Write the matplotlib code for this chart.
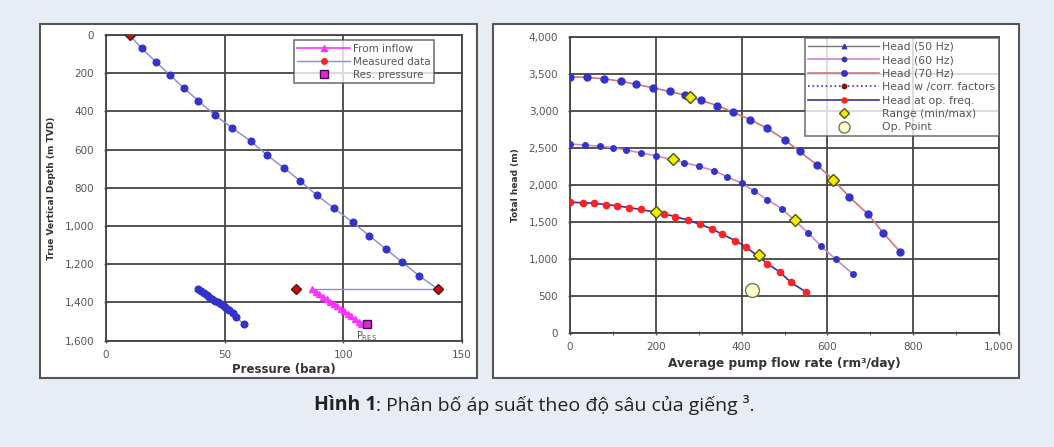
import matplotlib.pyplot as plt
from matplotlib.patches import Rectangle
from matplotlib.ticker import FuncFormatter, MultipleLocator

# ---- left chart data: pressure (bara) vs depth (m TVD)
meas_p = [10, 15, 21, 27, 33, 39, 46, 53, 61, 68, 75, 82, 89, 96, 104, 111, 118, 125, 132, 140]
meas_d = [0, 70, 140, 210, 280, 345, 420, 485, 555, 630, 695, 765, 840, 905, 980, 1050, 1120, 1190, 1260, 1330]
meas_pts_p = [10, 140, 80]
meas_pts_d = [0, 1330, 1330]
link_p = [87, 140]
link_d = [1330, 1330]
inflow_p = [87, 88.5, 90, 91.5, 93, 94.5, 96, 97.5, 99, 100.5, 102, 103.5, 105, 106.5, 107.5]
inflow_d = [1330, 1343, 1356, 1369, 1382, 1395, 1408, 1421, 1434, 1447, 1460, 1473, 1486, 1500, 1515]
low_p = [39, 40, 41.2, 42.4, 43.6, 44.8, 46, 47.2, 48.4, 49.6, 50.8, 52, 53.5, 55, 58]
low_d = [1330, 1340, 1350, 1360, 1370, 1380, 1390, 1400, 1410, 1420, 1430, 1440, 1455, 1475, 1515]
res_p = [110]
res_d = [1515]

# ---- right chart data: flow rate (rm3/day) vs total head (m)
q70 = [0, 40, 80, 118, 155, 193, 232, 268, 305, 343, 380, 420, 460, 500, 535, 575, 615, 650, 695, 730, 770]
h70 = [3460, 3450, 3430, 3400, 3355, 3310, 3260, 3210, 3140, 3070, 2980, 2880, 2760, 2610, 2450, 2270, 2060, 1840, 1600, 1350, 1090]
q60 = [0, 35, 70, 100, 130, 165, 200, 265, 300, 335, 365, 400, 430, 460, 495, 555, 585, 620, 660]
h60 = [2550, 2535, 2520, 2500, 2470, 2430, 2390, 2300, 2250, 2190, 2110, 2020, 1910, 1800, 1670, 1350, 1170, 990, 790]
q50 = [0, 30, 55, 85, 110, 138, 165, 220, 245, 275, 303, 330, 355, 385, 410, 460, 490, 515, 550]
h50 = [1765, 1755, 1750, 1730, 1715, 1690, 1665, 1605, 1570, 1520, 1465, 1405, 1330, 1245, 1160, 935, 815, 680, 550]
range_q = [280, 612, 240, 525, 200, 440]
range_h = [3190, 2065, 2345, 1520, 1630, 1050]
op_q = [425]
op_h = [580]

bg = '#e8ecf5'
tick_col = '#555555'
grid_col = '#444444'

fig = plt.figure(figsize=(10.54, 4.47), dpi=100, facecolor=bg)
W, H = 1054, 447

# white panels behind the axes
for x0, x1 in [(40, 477), (493, 1019)]:
    fig.patches.append(Rectangle((x0 / W, 1 - 378 / H), (x1 - x0) / W, (378 - 24) / H,
                                 transform=fig.transFigure, facecolor='white',
                                 edgecolor='#555555', lw=1.5, zorder=-5))

comma = FuncFormatter(lambda v, p: f'{int(v):,}')


def style(ax):
    ax.set_facecolor('white')
    ax.grid(True, color=grid_col, lw=1.3)
    for s in ax.spines.values():
        s.set_color(grid_col)
        s.set_linewidth(1.3)
    ax.tick_params(colors=tick_col, labelsize=7.5, length=3, width=1,
                   direction='inout', pad=7)
    ax.tick_params(axis='x', pad=5)
    ax.yaxis.set_major_formatter(comma)
    ax.xaxis.set_major_formatter(comma)
    ax.set_axisbelow(True)


# ---- left axes
ax1 = fig.add_axes([106 / W, 1 - 340.7 / H, 355.7 / W, 305.7 / H])
style(ax1)
ax1.plot(meas_p, meas_d, color='#8888dd', lw=1, marker='o', ms=4.8,
         mfc='#3333cc', mec='#3333cc', zorder=3)
ax1.plot(link_p, link_d, color='#8888dd', lw=1, zorder=2)
ax1.plot(low_p, low_d, color='#44aa44', lw=0.8, marker='o', ms=4.8,
         mfc='#3333cc', mec='#3333cc', zorder=3)
l1, = ax1.plot(inflow_p, inflow_d, color='#ff33ff', lw=1.2, marker='^', ms=4,
               mfc='#ff33ff', mec='#ff33ff', zorder=3, label='From inflow')
ax1.plot(meas_pts_p, meas_pts_d, ls='none', marker='D', ms=5.5,
         mfc='#cc1111', mec='#551111', zorder=4)
l2, = ax1.plot([], [], color='#8888dd', lw=1, marker='o', ms=4,
               mfc='#ff2222', mec='#ff2222', label='Measured data')
l3, = ax1.plot(res_p, res_d, ls='none', marker='s', ms=5.5, mfc='#cc33cc',
               mec='#550055', zorder=4, label='Res. pressure')
ax1.text(105.5, 1578, r'P$_{\mathrm{RES}}$', fontsize=7, color=tick_col,
         ha='left', va='center')
ax1.set_xlim(0, 150)
ax1.set_ylim(1600, 0)
ax1.xaxis.set_major_locator(MultipleLocator(50))
ax1.yaxis.set_major_locator(MultipleLocator(200))
ax1.set_xlabel('Pressure (bara)', fontsize=8.5, color='#333333', fontweight='bold', labelpad=2)
ax1.set_ylabel('True Vertical Depth (m TVD)', fontsize=6.5, color='#333333', fontweight='bold', labelpad=6)
leg1 = ax1.legend(handles=[l1, l2, l3], loc='upper right', bbox_to_anchor=(0.922, 0.984),
                  fontsize=7.5, frameon=True, fancybox=False, edgecolor='#555555',
                  handlelength=5, borderpad=0.35, labelspacing=0.3, handletextpad=0.3,
                  labelcolor=tick_col, borderaxespad=0)
leg1.get_frame().set_linewidth(1.2)

# ---- right axes
ax2 = fig.add_axes([570 / W, 1 - 332.7 / H, 429 / W, 296 / H])
style(ax2)
h_a, = ax2.plot([], [], color='#777777', lw=1, marker='^', ms=4, mfc='#3333cc',
                mec='#3333cc', label='Head (50 Hz)')
h_b, = ax2.plot(q60, h60, color='#cc88cc', lw=1.2, marker='o', ms=4, mfc='#3333cc',
                mec='#3333cc', zorder=3, label='Head (60 Hz)')
h_c, = ax2.plot(q70, h70, color='#cc7777', lw=1.2, marker='o', ms=5, mfc='#3333cc',
                mec='#3333cc', zorder=3, label='Head (70 Hz)')
h_d, = ax2.plot([], [], color='#3333cc', lw=1.2, ls=':', marker='o', ms=4,
                mfc='#881111', mec='#881111', label='Head w /corr. factors')
h_e, = ax2.plot(q50, h50, color='#333399', lw=1.2, marker='o', ms=4.5, mfc='#ff2222',
                mec='#ff2222', zorder=3, label='Head at op. freq.')
h_f, = ax2.plot(range_q, range_h, ls='none', marker='D', ms=6.5, mfc='#eeee00',
                mec='#555500', mew=1, zorder=4, label='Range (min/max)')
h_g, = ax2.plot(op_q, op_h, ls='none', marker='o', ms=10, mfc='#ffffcc',
                mec='#777755', mew=1, zorder=4, label='Op. Point')
ax2.set_xlim(0, 1000)
ax2.set_ylim(0, 4000)
ax2.xaxis.set_major_locator(MultipleLocator(200))
ax2.xaxis.set_minor_locator(MultipleLocator(100))
ax2.yaxis.set_major_locator(MultipleLocator(500))
ax2.tick_params(axis='x', which='minor', length=3, direction='inout', colors=grid_col)
ax2.set_xlabel('Average pump flow rate (rm³/day)', fontsize=8.7, color='#333333',
               fontweight='bold', labelpad=4)
ax2.set_ylabel('Total head (m)', fontsize=6.5, color='#333333', fontweight='bold', labelpad=6)
leg2 = ax2.legend(handles=[h_a, h_b, h_c, h_d, h_e, h_f, h_g], loc='upper right',
                  bbox_to_anchor=(1.0, 0.996), fontsize=7.8, frameon=True, fancybox=False,
                  edgecolor='#555555', handlelength=6.5, borderpad=0.35, labelspacing=0.32,
                  handletextpad=0.3, labelcolor=tick_col, markerscale=0.8, borderaxespad=0)
leg2.get_frame().set_linewidth(1.2)

# ---- caption
fig.text(376 / W, 1 - 405 / H, 'Hình 1', fontsize=14, fontweight='bold',
         family=['Open Sans', 'DejaVu Sans'], ha='right', va='center', color='#222222')
fig.text(376 / W, 1 - 405 / H, ': Phân bố áp suất theo độ sâu của giếng ³.', fontsize=14,
         family=['Open Sans', 'DejaVu Sans'], ha='left', va='center', color='#222222')

fig.savefig('out.png', dpi=100, facecolor=bg)
